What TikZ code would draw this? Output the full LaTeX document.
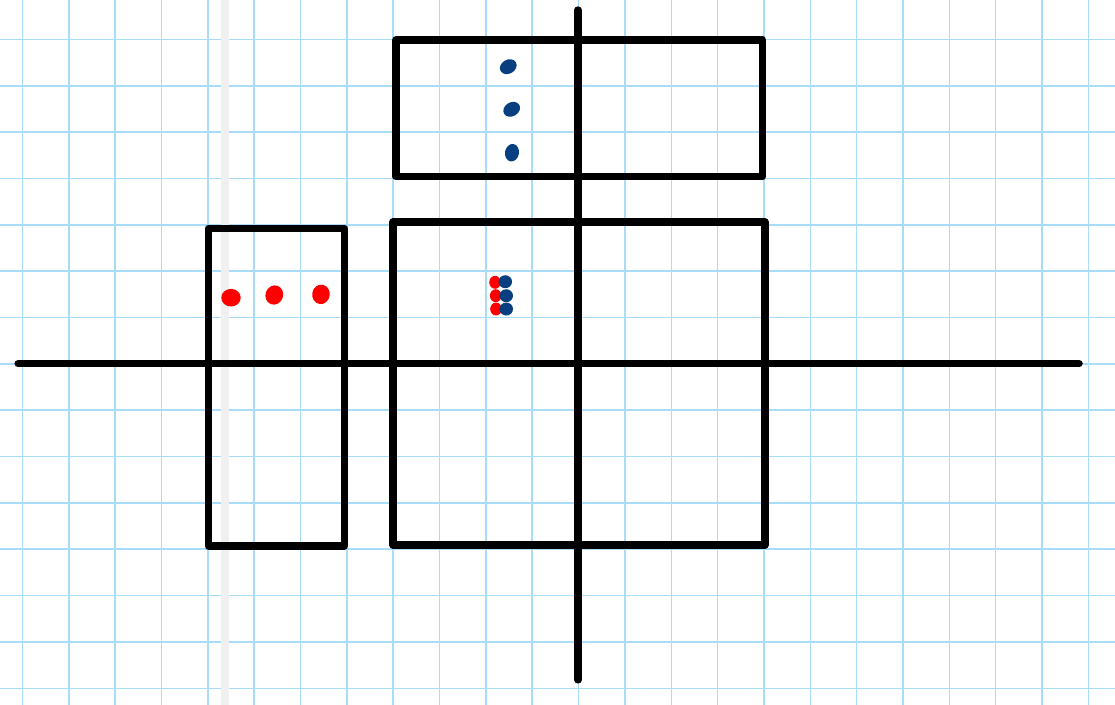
\documentclass[tikz,border=0pt]{standalone}
\usetikzlibrary{shapes.geometric}
\definecolor{gridblue}{HTML}{A8DCF8}
\definecolor{bandgray}{HTML}{F0F0F0}
\definecolor{inkred}{HTML}{FF0000}
\definecolor{inkblue}{HTML}{073F80}
\tikzset{
  minorline/.style={gridblue, line width=0.85pt},
  majorline/.style={gridblue, line width=1.3pt},
  box/.style={draw, rectangle, line width=4.4pt, line join=round, inner sep=0pt, outer sep=0pt},
  axis/.style={line width=4.5pt, line cap=round},
  reddot/.style={ellipse, fill=inkred, inner sep=0pt, minimum width=0.42cm, minimum height=0.38cm},
  bluedot/.style={ellipse, fill=inkblue, inner sep=0pt, minimum width=0.38cm, minimum height=0.30cm, rotate=30},
  smallred/.style={ellipse, fill=inkred, inner sep=0pt, minimum width=0.25cm, minimum height=0.28cm},
  smallblue/.style={ellipse, fill=inkblue, inner sep=0pt, minimum width=0.29cm, minimum height=0.28cm}
}
\begin{document}
\begin{tikzpicture}
  \useasboundingbox (-12.481,-7.362) rectangle (11.575,7.848);
  \fill[white] (-12.481,-7.362) rectangle (11.575,7.848);
  % squared paper
  \foreach \x in {-12,...,11} \draw[minorline] (\x,-7.362) -- (\x,7.848);
  \foreach \y in {-7,...,7} \draw[minorline] (-12.481,\y) -- (11.575,\y);
  \foreach \x in {-11,-8,...,10} \draw[majorline] (\x,-7.362) -- (\x,7.848);
  \foreach \y in {-6,-3,...,6} \draw[majorline] (-12.481,\y) -- (11.575,\y);
  \fill[bandgray] (-7.713,-7.362) rectangle (-7.540,7.848);

  % boxes
  \node (upper) [box, minimum width=7.911cm, minimum height=2.949cm] at (0.019,5.51) {};
  \node (lower) [box, minimum width=8.026cm, minimum height=6.968cm] at (0.011,-0.426) {};
  \node (left) [box, minimum width=2.934cm, minimum height=6.854cm] at (-6.52,-0.505) {};

  % axes
  \coordinate (xl) at (-12.09,0);
  \coordinate (xr) at (10.80,0);
  \coordinate (yt) at (-0.011,7.632);
  \coordinate (yb) at (-0.011,-6.821);
  \draw[axis] (xl) -- (xr);
  \draw[axis] (yt) -- (yb);

  % dots
  \node (r1) [reddot] at (-7.497,1.425) {};
  \node (r2) [reddot, rotate=70] at (-6.563,1.483) {};
  \node (r3) [reddot, rotate=80] at (-5.556,1.498) {};
  \node (b1) [bluedot] at (-1.515,6.409) {};
  \node (b2) [bluedot] at (-1.441,5.490) {};
  \node (b3) [bluedot, rotate=50] at (-1.435,4.553) {};
  \node (s1) [smallred] at (-1.801,1.757) {};
  \node (s2) [smallred] at (-1.786,1.468) {};
  \node (s3) [smallred] at (-1.780,1.181) {};
  \node (t1) [smallblue] at (-1.579,1.770) {};
  \node (t2) [smallblue] at (-1.558,1.468) {};
  \node (t3) [smallblue] at (-1.558,1.181) {};
\end{tikzpicture}
\end{document}
